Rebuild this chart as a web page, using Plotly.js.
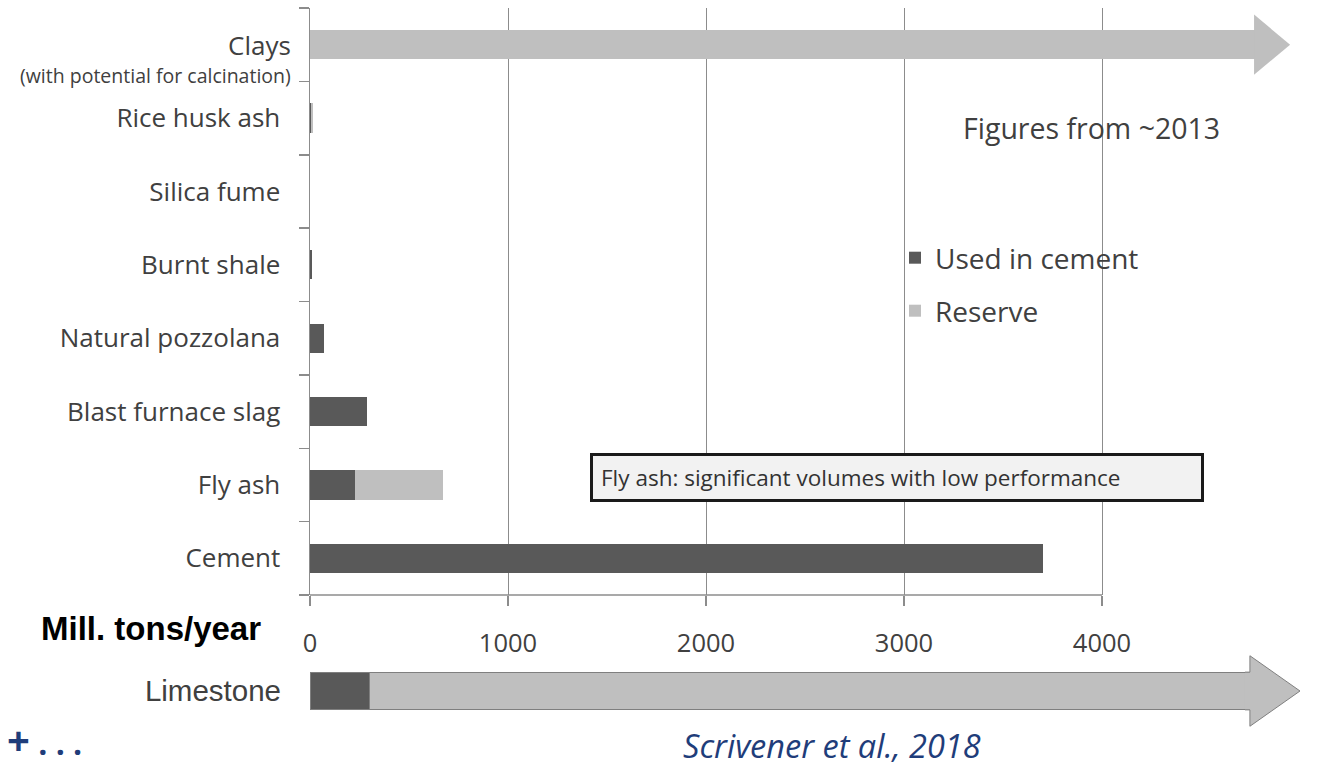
<!DOCTYPE html>
<html><head><meta charset="utf-8">
<script src="https://cdn.plot.ly/plotly-3.0.1.min.js"></script>
<style>html,body{margin:0;padding:0;background:#fff}#chart{width:1337px;height:771px}</style>
</head><body><div id="chart"></div>
<script>
// ---- data ----
const categories = ['Clays','Rice husk ash','Silica fume','Burnt shale','Natural pozzolana','Blast furnace slag','Fly ash','Cement'];
const tickLabels = ['','Rice husk ash','Silica fume','Burnt shale','Natural pozzolana','Blast furnace slag','Fly ash','Cement'];
const usedInCement = [0, 4, 2, 8, 70, 290, 225, 3700];
const reserve = [4773, 10, 0, 0, 0, 0, 445, 0];
const clayArrowTip = [4950];
const limestoneCat = ['Limestone'];
const limestoneUsed = [298];
const limestoneReserve = [4449];
const limestoneArrowTip = [5000];
const xTickVals = [0, 1000, 2000, 3000, 4000];
const xTickText = ['0', '1000', '2000', '3000', '4000'];

// ---- geometry helpers ----
const W = 1337, H = 771, L = 310, R = 37, T = 8, B = 0;
const plotW = W - L - R, plotH = H - T - B;
const xp = px => (px - L) / plotW;
const yp = py => (H - B - py) / plotH;
const domBottom = yp(595);

const DARK = '#595959', LIGHT = '#bfbfbf', AXIS = '#8c8c8c', TXT = '#404040', BLUE = '#1f3d7a';

const traces = [
  {type:'bar', orientation:'h', name:'Used in cement', y:categories, x:usedInCement,
   marker:{color:DARK, line:{width:0}}, width:0.4, legend:'legend', hoverinfo:'skip'},
  {type:'bar', orientation:'h', name:'Reserve', y:categories, x:reserve,
   marker:{color:LIGHT, line:{width:0}}, width:0.4, legend:'legend2', hoverinfo:'skip'},
  {type:'bar', orientation:'h', name:'Limestone used', y:limestoneCat, x:limestoneUsed, xaxis:'x2', yaxis:'y2',
   marker:{color:DARK, line:{color:'#7f7f7f', width:1}}, width:0.46, showlegend:false, hoverinfo:'skip'},
  {type:'bar', orientation:'h', name:'Limestone reserve', y:limestoneCat, x:limestoneReserve, xaxis:'x2', yaxis:'y2',
   marker:{color:LIGHT, line:{color:'#7f7f7f', width:1}}, width:0.46, showlegend:false, hoverinfo:'skip'}
];

const clayEnd = usedInCement[0] + reserve[0];
const limeEnd = limestoneUsed[0] + limestoneReserve[0];

const shapes = [
  {type:'line', xref:'x', yref:'paper', x0:xTickVals[0], x1:xTickVals[xTickVals.length-1], y0:domBottom, y1:domBottom,
   line:{color:AXIS, width:1.5}},
  {type:'path', xref:'x', yref:'y',
   path:`M${clayEnd-5},-0.41 L${clayArrowTip[0]},0 L${clayEnd-5},0.41 Z`,
   fillcolor:LIGHT, line:{width:0}},
  {type:'path', xref:'x2', yref:'y2',
   path:`M${limeEnd-25},-0.23 L${limeEnd},-0.23 L${limeEnd},-0.43 L${limestoneArrowTip[0]},0 L${limeEnd},0.43 L${limeEnd},0.23 L${limeEnd-25},0.23`,
   fillcolor:LIGHT, line:{color:'#7f7f7f', width:1}}
];

const annotations = [
  {xref:'paper', yref:'paper', x:xp(293), y:yp(45), xanchor:'right', yanchor:'middle', showarrow:false,
   text:'Clays', font:{family:'Open Sans', size:26, color:TXT}},
  {xref:'paper', yref:'paper', x:xp(293), y:yp(76), xanchor:'right', yanchor:'middle', showarrow:false,
   text:'(with potential for calcination)', font:{family:'Open Sans', size:19.5, color:TXT}},
  {xref:'paper', yref:'paper', x:xp(1091), y:yp(128), xanchor:'center', yanchor:'middle', showarrow:false,
   text:'Figures from ~2013', font:{family:'Open Sans', size:28.5, color:TXT}},
  {xref:'paper', yref:'paper', x:xp(897), y:yp(477.5), xanchor:'center', yanchor:'middle', showarrow:false,
   text:'Fly ash: significant volumes with low performance', align:'left', width:592, height:27,
   bgcolor:'#f2f2f2', bordercolor:'#1a1a1a', borderwidth:3, borderpad:8,
   font:{family:'Open Sans', size:22.5, color:'#333333'}},
  {xref:'paper', yref:'paper', x:xp(151), y:yp(628), xanchor:'center', yanchor:'middle', showarrow:false,
   text:'<b>Mill. tons/year</b>', font:{family:'Liberation Sans', size:33, color:'#000000'}},
  {xref:'paper', yref:'paper', x:xp(5), y:yp(769), xanchor:'left', yanchor:'bottom', showarrow:false,
   text:'<b><span style="font-size:40px">+</span> . . .</b>', font:{family:'Open Sans', size:32, color:BLUE}},
  {xref:'paper', yref:'paper', x:xp(832), y:yp(745), xanchor:'center', yanchor:'middle', showarrow:false,
   text:'<i>Scrivener et al., 2018</i>', font:{family:'Open Sans', size:32.5, color:BLUE}}
];

const layout = {
  width:W, height:H, autosize:false,
  margin:{l:L, r:R, t:T, b:B, pad:0},
  paper_bgcolor:'#ffffff', plot_bgcolor:'rgba(0,0,0,0)',
  barmode:'stack', bargap:0.6,
  font:{family:'Open Sans', color:TXT},
  xaxis:{domain:[0,1], anchor:'y', range:[0,5000], tickmode:'array', tickvals:xTickVals, ticktext:xTickText,
    showgrid:true, gridcolor:AXIS, gridwidth:1, zeroline:false, showline:false,
    ticks:'outside', ticklen:10, tickcolor:AXIS, tickwidth:1.5,
    tickfont:{family:'Open Sans', size:25.5, color:TXT}, ticklabelstandoff:15, fixedrange:true},
  yaxis:{domain:[domBottom,1], anchor:'x', type:'category', categoryorder:'array', categoryarray:categories,
    range:[7.5,-0.5], tickmode:'array', tickvals:categories, ticktext:tickLabels, tickson:'boundaries',
    ticks:'outside', ticklen:10, tickcolor:AXIS, tickwidth:1.5, showline:true, linecolor:AXIS, linewidth:1.5,
    showgrid:false, zeroline:false, tickfont:{family:'Open Sans', size:26, color:TXT}, ticklabelstandoff:23, fixedrange:true},
  xaxis2:{matches:'x', anchor:'y2', visible:false, showgrid:false, domain:[0,1]},
  yaxis2:{domain:[yp(732), yp(650)], anchor:'x2', type:'category', range:[0.5,-0.5],
    ticks:'', showline:false, showgrid:false, zeroline:false,
    tickfont:{family:'Liberation Sans', size:29.5, color:TXT}, ticklabelstandoff:28, fixedrange:true},
  legend:{x:xp(895), y:yp(258), xanchor:'left', yanchor:'middle', bgcolor:'rgba(0,0,0,0)', borderwidth:0,
    font:{family:'Open Sans', size:28, color:TXT}},
  legend2:{x:xp(895), y:yp(311), xanchor:'left', yanchor:'middle', bgcolor:'rgba(0,0,0,0)', borderwidth:0,
    font:{family:'Open Sans', size:28, color:TXT}},
  shapes:shapes,
  annotations:annotations
};

Plotly.newPlot('chart', traces, layout, {staticPlot:true, displayModeBar:false});
</script></body></html>
